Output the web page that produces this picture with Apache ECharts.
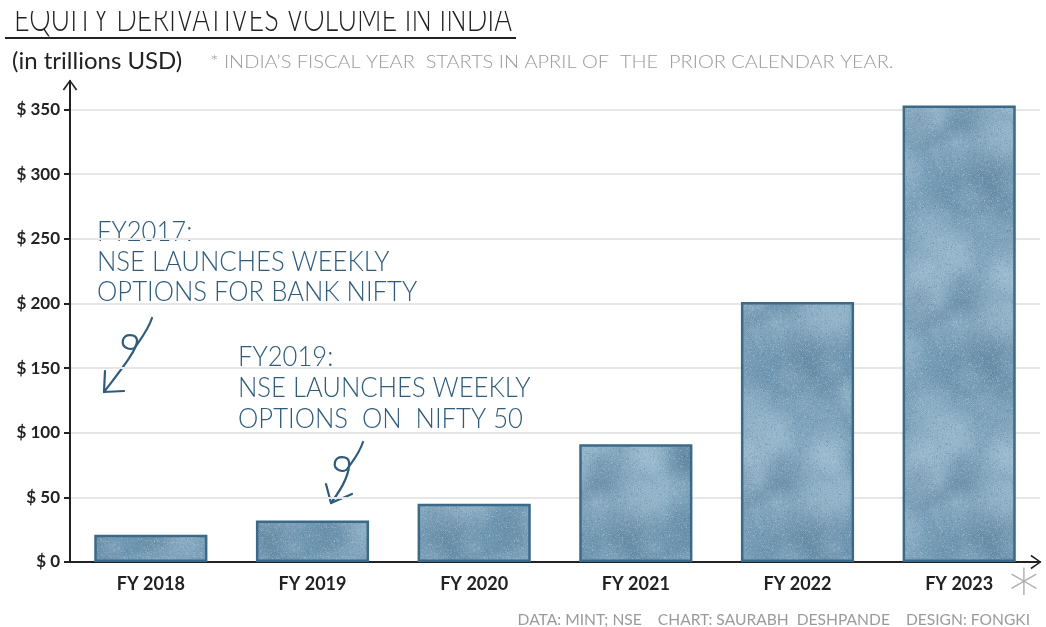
<!DOCTYPE html>
<html>
<head>
<meta charset="utf-8">
<script src="https://cdn.jsdelivr.net/npm/echarts@6/dist/echarts.min.js"></script>
<style>
  html, body { margin: 0; padding: 0; background: #ffffff; }
  #chart { width: 1046px; height: 627px; }
</style>
</head>
<body>
<div id="chart"></div>
<script>
// Fiscal years and equity derivatives volume (trillions USD)
const categories = ['FY 2018', 'FY 2019', 'FY 2020', 'FY 2021', 'FY 2022', 'FY 2023'];
const volumes = [21, 32, 45, 91, 201, 353];
const yTicks = [0, 50, 100, 150, 200, 250, 300, 350];

const titleText = 'EQUITY DERIVATIVES VOLUME IN INDIA';
const unitText = '(in trillions USD)';
const footnoteText = '* INDIA\u2019S FISCAL YEAR  STARTS IN APRIL OF  THE  PRIOR CALENDAR YEAR.';
const creditText = 'DATA: MINT; NSE    CHART: SAURABH  DESHPANDE    DESIGN: FONGKI';
const note2017 = ['FY2017:', 'NSE LAUNCHES WEEKLY', 'OPTIONS FOR BANK NIFTY'];
const note2019 = ['FY2019:', 'NSE LAUNCHES WEEKLY', 'OPTIONS  ON  NIFTY 50'];

const INK = '#222222';
const NOTE_BLUE = '#2f5c7c';
const GREY = '#9a9a9a';
const FONT = 'Lato, "Open Sans", sans-serif';

// Mottled paper-like fill for the bars (deterministic grain)
function makeBarTexture() {
  const size = 180;
  const c = document.createElement('canvas');
  c.width = c.height = size;
  const g = c.getContext('2d');
  g.fillStyle = '#7097b1';
  g.fillRect(0, 0, size, size);
  let seed = 48271;
  const next = () => { seed = (seed * 16807) % 2147483647; return seed / 2147483647; };
  for (let i = 0; i < 55; i++) {
    const x = next() * size, y = next() * size, r = 14 + next() * 30;
    const light = next() < 0.6;
    const rgb = light ? '165,195,214' : '82,118,145';
    const a = light ? 0.4 : 0.32;
    for (const dx of [-size, 0, size]) {
      for (const dy of [-size, 0, size]) {
        const grd = g.createRadialGradient(x + dx, y + dy, 0, x + dx, y + dy, r);
        grd.addColorStop(0, `rgba(${rgb},${a})`);
        grd.addColorStop(1, `rgba(${rgb},0)`);
        g.fillStyle = grd;
        g.fillRect(x + dx - r, y + dy - r, 2 * r, 2 * r);
      }
    }
  }
  for (let i = 0; i < 8000; i++) {
    const x = Math.floor(next() * size), y = Math.floor(next() * size);
    g.fillStyle = next() < 0.6 ? 'rgba(190,212,226,0.28)' : 'rgba(70,105,132,0.22)';
    g.fillRect(x, y, 1, 1);
  }
  return c;
}

function textEl(str, x, y, size, color, opts) {
  opts = opts || {};
  return {
    type: 'text',
    x: x, y: y,
    scaleX: opts.scaleX || 1,
    scaleY: opts.scaleY || 1,
    silent: true,
    z: opts.z || 0,
    style: {
      x: 0, y: 0,
      text: str,
      fill: color,
      font: (opts.weight || 'normal') + ' ' + size + 'px ' + (opts.family || FONT),
      textAlign: opts.align || 'left',
      textVerticalAlign: 'middle'
    }
  };
}

function noteBlock(lines, x, y0, lineGap) {
  return lines.map((l, i) => textEl(l, x, y0 + i * lineGap, 27, NOTE_BLUE, { scaleX: 0.95, weight: 300 }));
}

// Curly pointer: a short stroke with a loop, ending in an open arrowhead
function curlyArrow(start, loop, tip, arms) {
  const [sx, sy] = start, [lx, ly] = loop, [tx, ty] = tip;
  const stroke = { stroke: NOTE_BLUE, lineWidth: 2.2, lineCap: 'round', fill: 'none' };
  const segs = [
    [sx, sy, sx - 4, sy + 12, lx + 10, ly - 2, lx + 6, ly + 4],
    [lx + 6, ly + 4, lx + 2, ly + 10, lx - 9, ly + 6, lx - 7, ly - 2],
    [lx - 7, ly - 2, lx - 5, ly - 9, lx + 6, ly - 8, lx + 7, ly - 2],
    [lx + 7, ly - 2, lx + 8, ly + 8, tx + 12, ty - 16, tx, ty]
  ];
  const curves = segs.map(s => ({
    type: 'bezierCurve', silent: true,
    shape: { x1: s[0], y1: s[1], cpx1: s[2], cpy1: s[3], cpx2: s[4], cpy2: s[5], x2: s[6], y2: s[7] },
    style: stroke
  }));
  curves.push({
    type: 'polyline', silent: true,
    shape: { points: [arms[0], [tx, ty], arms[1]] },
    style: Object.assign({ lineJoin: 'round' }, stroke)
  });
  return curves;
}

const chart = echarts.init(document.getElementById('chart'), null, { renderer: 'canvas' });

const chevronUp = 'path://M0,11 L8,0 L16,11 L14.4,12 L8,2.6 L1.6,12 Z';

chart.setOption({
  backgroundColor: '#ffffff',
  animation: false,
  grid: { left: 70, right: 6, top: 81, bottom: 65, containLabel: false },
  xAxis: {
    type: 'category',
    data: categories,
    axisLine: {
      show: true,
      symbol: ['none', chevronUp],
      symbolSize: [16, 11],
      symbolOffset: [0, -4],
      lineStyle: { color: INK, width: 2 }
    },
    axisTick: { show: false },
    axisLabel: {
      color: INK, fontFamily: FONT, fontSize: 18, fontWeight: 'bold', margin: 13
    },
    splitLine: { show: false }
  },
  yAxis: {
    type: 'value',
    min: 0,
    max: 372,
    axisLine: {
      show: true,
      symbol: ['none', chevronUp],
      symbolSize: [16, 11],
      symbolOffset: [0, -4],
      lineStyle: { color: INK, width: 2 }
    },
    axisTick: {
      show: true, length: 6, customValues: yTicks,
      lineStyle: { color: INK, width: 2 }
    },
    axisLabel: {
      customValues: yTicks,
      color: INK, fontFamily: FONT, fontSize: 17, fontWeight: 'bold', margin: 10,
      formatter: v => '$ ' + v
    },
    splitLine: {
      show: true, showMinLine: false,
      lineStyle: { color: '#e6e6e6', width: 2 }
    }
  },
  series: [{
    type: 'bar',
    data: volumes,
    barWidth: '70%',
    itemStyle: {
      color: { image: makeBarTexture(), repeat: 'repeat' },
      borderColor: '#3d6988',
      borderWidth: 2.5
    },
    z: 3
  }],
  graphic: [
    // title, its top trimmed by the page edge, with its underline
    textEl(titleText, 14, 19, 37, INK, { scaleX: 0.73, weight: 300 }),
    { type: 'rect', silent: true, z: 5, shape: { x: 0, y: 0, width: 540, height: 11 },
      style: { fill: '#ffffff' } },
    { type: 'line', silent: true, shape: { x1: 5, y1: 38, x2: 516, y2: 38 },
      style: { stroke: INK, lineWidth: 2 } },
    textEl(unitText, 12, 61, 24, INK),
    textEl(footnoteText, 210, 62, 18, GREY, { scaleX: 1.11, weight: 300 }),
    // annotations
    ...noteBlock(note2017, 97, 232, 30),
    ...curlyArrow([152, 318], [130, 342], [104, 392], [[105, 371], [124, 391]]),
    ...noteBlock(note2019, 238, 357, 31),
    ...curlyArrow([363, 442], [342, 464], [331, 503], [[326, 484], [352, 494]]),
    // footnote marker and credits
    textEl('*', 1024, 596, 60, '#b0b0b0', { family: '"DejaVu Sans", sans-serif', align: 'center', weight: 300 }),
    textEl(creditText, 1030, 620, 15, GREY, { align: 'right', scaleX: 1.04 })
  ]
});
</script>
</body>
</html>
